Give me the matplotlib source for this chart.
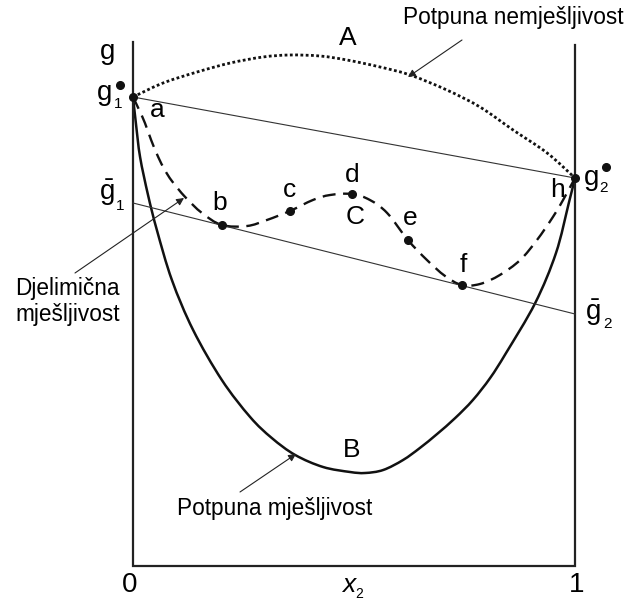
import matplotlib
matplotlib.use("Agg")
import matplotlib.pyplot as plt
from matplotlib.path import Path
from matplotlib.patches import PathPatch

plt.rcParams['font.family'] = ['Liberation Sans', 'DejaVu Sans']
plt.rcParams['mathtext.fontset'] = 'custom'
plt.rcParams['mathtext.rm'] = 'Liberation Sans'
plt.rcParams['mathtext.it'] = 'Liberation Sans:italic'

# ---- data (x2 mole fraction, g in arbitrary units) ----
g1_pure = 4.69   # g1*
g2_pure = 3.88   # g2*
g1_bar = 3.63
g2_bar = 2.52

# curve A: complete immiscibility (dotted)
a_x = [0.0, 0.068, 0.145, 0.220, 0.294, 0.355, 0.423, 0.484, 0.559, 0.627, 0.710, 0.785, 0.860, 0.937, 1.0]
a_g = [4.69, 4.83, 4.94, 5.03, 5.09, 5.11, 5.10, 5.06, 4.99, 4.91, 4.76, 4.59, 4.36, 4.13, 3.88]

# curve B: complete miscibility (solid)
b_x = [0.0, 0.007, 0.016, 0.034, 0.054, 0.088, 0.136, 0.201, 0.265, 0.314, 0.367, 0.430,
       0.491, 0.525, 0.566, 0.611, 0.649, 0.688, 0.729, 0.769, 0.808, 0.844, 0.910,
       0.957, 0.986, 1.0]
b_g = [4.69, 4.41, 4.09, 3.71, 3.36, 2.86, 2.36, 1.86, 1.49, 1.28, 1.11, 0.99,
       0.94, 0.93, 0.96, 1.06, 1.18, 1.32, 1.48, 1.66, 1.88, 2.13, 2.63,
       3.13, 3.63, 3.88]

# curve C: partial miscibility (dashed)
c_x = [0.0, 0.014, 0.027, 0.041, 0.057, 0.072, 0.088, 0.118, 0.156, 0.201, 0.258, 0.303,
       0.355, 0.407, 0.446, 0.496, 0.536, 0.575, 0.622, 0.665, 0.706, 0.744, 0.785,
       0.830, 0.876, 0.914, 0.950, 0.973, 1.0]
c_g = [4.69, 4.56, 4.43, 4.26, 4.09, 3.96, 3.85, 3.69, 3.53, 3.41, 3.40, 3.46,
       3.55, 3.66, 3.71, 3.72, 3.66, 3.53, 3.26, 3.06, 2.90, 2.81, 2.82,
       2.91, 3.06, 3.26, 3.49, 3.66, 3.88]

# labelled points on curve C
pt_names = ['a', 'b', 'c', 'd', 'e', 'f', 'h']
pt_x = [0.0, 0.201, 0.355, 0.496, 0.622, 0.744, 1.0]
pt_g = [4.69, 3.41, 3.55, 3.72, 3.26, 2.81, 3.88]

fig = plt.figure(figsize=(6.26, 6.04), dpi=100)
ax = fig.add_axes([0, 0, 1, 1])
W, H = 626, 604
X0, X1 = 133, 575
Y0 = 566
ax.set_xlim(-X0 / (X1 - X0), (W - X0) / (X1 - X0))
ax.set_ylim((Y0 - H) / 100, Y0 / 100)
ax.axis('off')


def P(px, py):
    return ((px - X0) / (X1 - X0), (Y0 - py) / 100)


def smooth_path(xs, ys):
    """Smooth Bezier path passing through the given points."""
    pts = list(zip(xs, ys))
    n = len(pts)
    verts = [pts[0]]
    codes = [Path.MOVETO]
    for i in range(n - 1):
        p0 = pts[i - 1] if i > 0 else pts[i]
        p1 = pts[i]
        p2 = pts[i + 1]
        p3 = pts[i + 2] if i + 2 < n else pts[i + 1]
        c1 = (p1[0] + (p2[0] - p0[0]) / 6, p1[1] + (p2[1] - p0[1]) / 6)
        c2 = (p2[0] - (p3[0] - p1[0]) / 6, p2[1] - (p3[1] - p1[1]) / 6)
        verts += [c1, c2, p2]
        codes += [Path.CURVE4] * 3
    return Path(verts, codes)


# frame
ax.plot([0, 0, 1, 1], [5.24, 0, 0, 5.21], color='#222222', lw=1.6, solid_joinstyle='miter')

# thin chords
ax.plot([0, 1], [g1_pure, g2_pure], color='#333333', lw=0.8)
ax.plot([0, 1], [g1_bar, g2_bar], color='#333333', lw=0.8)

# curves
ax.add_patch(PathPatch(smooth_path(a_x, a_g), fill=False, edgecolor='#111111',
                       lw=2.0, linestyle=(0, (1, 0.9))))
ax.add_patch(PathPatch(smooth_path(b_x, b_g), fill=False, edgecolor='#111111',
                       lw=1.8, capstyle='round'))
ax.add_patch(PathPatch(smooth_path(c_x, c_g), fill=False, edgecolor='#111111',
                       lw=1.7, linestyle=(0, (5.5, 3.2))))

ax.plot(pt_x, pt_g, 'o', color='#111111', ms=5.5, zorder=5)

fs_big = 19
fs_txt = 16.3
lab_pos = {'a': (157, 110), 'b': (220, 203), 'c': (290, 190), 'd': (352, 175),
           'e': (410, 218), 'f': (463, 265), 'h': (557, 190)}
for n in pt_names:
    ax.text(*P(*lab_pos[n]), n, fontsize=fs_big, ha='center', va='center')

ax.text(*P(348, 38), 'A', fontsize=fs_big, ha='center', va='center')
ax.text(*P(352, 450), 'B', fontsize=fs_big, ha='center', va='center')
ax.text(*P(355, 217), 'C', fontsize=fs_big, ha='center', va='center')

# g labels
ax.text(*P(108, 52), 'g', fontsize=fs_big + 1, ha='center', va='center')
ax.text(*P(105, 93), 'g', fontsize=fs_big + 1, ha='center', va='center')
ax.text(*P(118, 104), '1', fontsize=11, ha='center', va='center')
ax.plot(*P(120, 85), 'o', color='#111111', ms=5.5)
ax.text(*P(592, 178), 'g', fontsize=fs_big + 1, ha='center', va='center')
ax.text(*P(604, 188), '2', fontsize=11, ha='center', va='center')
ax.plot(*P(606, 167), 'o', color='#111111', ms=5.5)
ax.text(*P(107, 193), r'$\bar{\mathrm{g}}$', fontsize=fs_big + 1, ha='center', va='center')
ax.text(*P(120, 206), '1', fontsize=11, ha='center', va='center')
ax.text(*P(593, 313), r'$\bar{\mathrm{g}}$', fontsize=fs_big + 1, ha='center', va='center')
ax.text(*P(607, 324), '2', fontsize=11, ha='center', va='center')

# axis labels
ax.text(*P(130, 585), '0', fontsize=fs_big + 1, ha='center', va='center')
ax.text(*P(577, 585), '1', fontsize=fs_big + 1, ha='center', va='center')
ax.text(*P(349, 585), 'x', fontsize=fs_big, style='italic', ha='center', va='center')
ax.text(*P(359, 594), '2', fontsize=10, ha='center', va='center')

# descriptive texts and arrows
ax.text(*P(513, 18), 'Potpuna nemješljivost', fontsize=fs_txt, ha='center', va='center')
ax.text(*P(67, 288), 'Djelimična', fontsize=fs_txt, ha='center', va='center')
ax.text(*P(68, 314), 'mješljivost', fontsize=fs_txt, ha='center', va='center')
ax.text(*P(275, 508), 'Potpuna mješljivost', fontsize=fs_txt, ha='center', va='center')

arr = dict(arrowstyle='-|>', lw=0.8, color='#222222', mutation_scale=11, shrinkA=0, shrinkB=0)
ax.annotate('', xy=P(408, 77), xytext=P(462, 40), arrowprops=arr)
ax.annotate('', xy=P(184, 198), xytext=P(75, 273), arrowprops=arr)
ax.annotate('', xy=P(296, 454), xytext=P(240, 492), arrowprops=arr)

fig.savefig('out.png', dpi=100)
